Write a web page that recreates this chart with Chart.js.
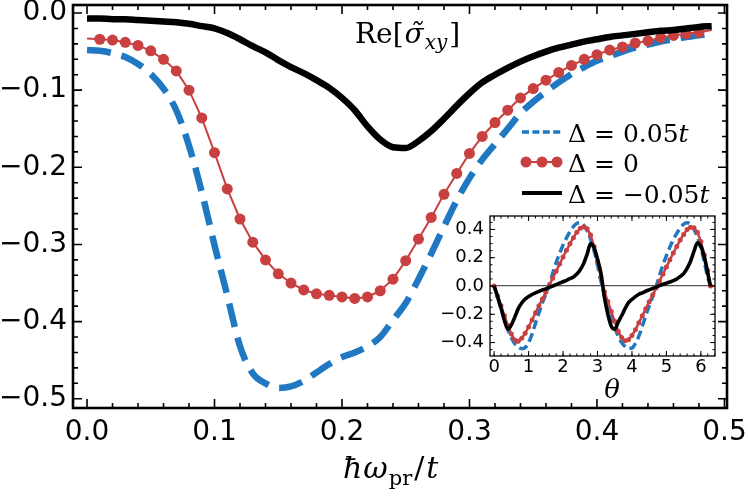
<!DOCTYPE html>
<html>
<head>
<meta charset="utf-8">
<script src="https://cdn.jsdelivr.net/npm/chart.js@4.4.0/dist/chart.umd.min.js"></script>
<style>
  html, body { margin: 0; padding: 0; background: #fff; }
  #wrap { position: relative; width: 748px; height: 496px; overflow: hidden; }
  #main { position: absolute; left: 0; top: 0; }
  #inset { position: absolute; left: 430px; top: 200px; }
</style>
</head>
<body>
<div id="wrap">
  <canvas id="main" width="748" height="496"></canvas>
  <canvas id="inset" width="300" height="215"></canvas>
</div>
<script>
// main panel, x = hbar*omega_pr / t
const omega = [0.00, 0.01, 0.02, 0.03, 0.04, 0.05, 0.06, 0.07, 0.08, 0.09,
  0.10, 0.11, 0.12, 0.13, 0.14, 0.15, 0.16, 0.17, 0.18, 0.19,
  0.20, 0.21, 0.22, 0.23, 0.24, 0.25, 0.26, 0.27, 0.28, 0.29,
  0.30, 0.31, 0.32, 0.33, 0.34, 0.35, 0.36, 0.37, 0.38, 0.39,
  0.40, 0.41, 0.42, 0.43, 0.44, 0.45, 0.46, 0.47, 0.48, 0.49];

// Delta = 0.05t (blue dashed)
const sigmaPos = [-0.048, -0.049, -0.052, -0.057, -0.066, -0.079, -0.098, -0.126, -0.172, -0.232,
  -0.301, -0.366, -0.432, -0.467, -0.480, -0.486, -0.484, -0.477, -0.466, -0.455,
  -0.446, -0.440, -0.432, -0.420, -0.398, -0.376, -0.345, -0.312, -0.277, -0.243,
  -0.214, -0.190, -0.170, -0.150, -0.130, -0.115, -0.102, -0.090, -0.079, -0.070,
  -0.062, -0.056, -0.050, -0.045, -0.041, -0.037, -0.034, -0.031, -0.029, -0.026];

// Delta = 0 (red with dots)
const sigmaZero = [-0.033, -0.034, -0.035, -0.038, -0.042, -0.049, -0.060, -0.075, -0.100, -0.136,
  -0.181, -0.228, -0.267, -0.297, -0.320, -0.338, -0.350, -0.359, -0.364, -0.366,
  -0.368, -0.370, -0.368, -0.360, -0.345, -0.321, -0.293, -0.265, -0.235, -0.208,
  -0.182, -0.160, -0.142, -0.126, -0.110, -0.098, -0.087, -0.077, -0.068, -0.060,
  -0.054, -0.048, -0.044, -0.039, -0.036, -0.032, -0.029, -0.027, -0.025, -0.022];

// Delta = -0.05t (black)
const sigmaNeg = [-0.007, -0.007, -0.008, -0.008, -0.009, -0.010, -0.011, -0.012, -0.014, -0.017,
  -0.020, -0.026, -0.034, -0.043, -0.051, -0.061, -0.070, -0.078, -0.087, -0.097,
  -0.110, -0.126, -0.147, -0.164, -0.174, -0.175, -0.166, -0.153, -0.137, -0.120,
  -0.104, -0.090, -0.080, -0.071, -0.063, -0.056, -0.050, -0.045, -0.041, -0.037,
  -0.034, -0.031, -0.029, -0.027, -0.025, -0.023, -0.022, -0.020, -0.018, -0.017];

const xTicks = [0, 0.1, 0.2, 0.3, 0.4, 0.5];
const yTicks = [0, -0.1, -0.2, -0.3, -0.4, -0.5];
const legendLabels = ['Δ = 0.05t', 'Δ = 0', 'Δ = −0.05t'];

// inset, angle theta
const theta = [0.0, 0.1, 0.2, 0.3, 0.4, 0.5, 0.6, 0.7, 0.8, 0.9,
  1.0, 1.1, 1.2, 1.3, 1.4, 1.5, 1.6, 1.7, 1.8, 1.9,
  2.0, 2.1, 2.2, 2.3, 2.4, 2.5, 2.6, 2.7, 2.8, 2.9,
  3.0, 3.1, 3.2, 3.3, 3.4, 3.5, 3.6, 3.7, 3.8, 3.9,
  4.0, 4.1, 4.2, 4.3, 4.4, 4.5, 4.6, 4.7, 4.8, 4.9,
  5.0, 5.1, 5.2, 5.3, 5.4, 5.5, 5.6, 5.7, 5.8, 5.9,
  6.0, 6.1, 6.2, 6.28];

const insetPos = [0.000, -0.080, -0.160, -0.235, -0.308, -0.365, -0.408, -0.432, -0.443, -0.436,
  -0.400, -0.340, -0.265, -0.190, -0.120, -0.058, 0.010, 0.090, 0.165, 0.230,
  0.290, 0.340, 0.385, 0.420, 0.442, 0.447, 0.430, 0.390, 0.330, 0.250,
  0.150, 0.035, -0.060, -0.140, -0.218, -0.292, -0.355, -0.400, -0.428, -0.441,
  -0.440, -0.405, -0.355, -0.285, -0.210, -0.140, -0.075, -0.005, 0.075, 0.150,
  0.215, 0.275, 0.328, 0.372, 0.410, 0.437, 0.447, 0.435, 0.400, 0.345,
  0.270, 0.170, 0.060, 0.000];

const insetZero = [0.000, -0.070, -0.140, -0.210, -0.280, -0.340, -0.382, -0.390, -0.370, -0.335,
  -0.290, -0.240, -0.190, -0.140, -0.092, -0.045, 0.005, 0.055, 0.105, 0.155,
  0.205, 0.252, 0.298, 0.342, 0.380, 0.408, 0.418, 0.405, 0.360, 0.280,
  0.175, 0.060, -0.040, -0.110, -0.180, -0.250, -0.320, -0.365, -0.388, -0.380,
  -0.350, -0.310, -0.260, -0.210, -0.160, -0.112, -0.064, -0.015, 0.035, 0.085,
  0.135, 0.185, 0.233, 0.280, 0.325, 0.365, 0.400, 0.415, 0.412, 0.380,
  0.315, 0.220, 0.110, 0.000];

const insetNeg = [0.000, -0.075, -0.155, -0.245, -0.306, -0.275, -0.220, -0.160, -0.120, -0.092,
  -0.075, -0.060, -0.048, -0.038, -0.028, -0.020, -0.010, 0.000, 0.010, 0.020,
  0.030, 0.040, 0.052, 0.064, 0.085, 0.115, 0.160, 0.225, 0.300, 0.270,
  0.190, 0.090, -0.080, -0.200, -0.285, -0.306, -0.255, -0.210, -0.160, -0.118,
  -0.095, -0.075, -0.058, -0.048, -0.037, -0.027, -0.017, -0.008, 0.003, 0.012,
  0.020, 0.028, 0.038, 0.050, 0.068, 0.088, 0.125, 0.175, 0.245, 0.305,
  0.280, 0.205, 0.090, 0.000];

const thetaTicks = [0, 1, 2, 3, 4, 5, 6];
const insetYTicks = [-0.4, -0.2, 0, 0.2, 0.4];

const BLUE = '#1f78c1';
const RED = '#c8403f';
const SERIF = '"DejaVu Serif"';

function pts(xs, ys) {
  return xs.map((x, i) => ({ x: x, y: ys[i] }));
}

function fmt(v, d) {
  return (v < -1e-9 ? '\u2212' : '') + Math.abs(v).toFixed(d);
}

// draws text pieces one after the other (for the math labels)
function drawRuns(ctx, x, y, runs) {
  runs.forEach(r => {
    ctx.font = r.font;
    ctx.fillText(r.t, x, y + (r.dy || 0));
    x += ctx.measureText(r.t).width + (r.gap || 0);
  });
  return x;
}

function rangeVals(from, to, step) {
  const out = [];
  for (let v = from; v <= to + 1e-9; v += step) out.push(+v.toFixed(4));
  return out;
}

// inward ticks on all four sides plus the box, matplotlib style
function frameTicks(o) {
  return {
    id: 'frameTicks',
    afterDatasetsDraw(chart) {
      const { ctx, chartArea: a, scales: { x, y } } = chart;
      ctx.save();
      ctx.strokeStyle = '#000';
      ctx.lineWidth = o.tickWidth;
      ctx.beginPath();
      const xs = (vals, len) => vals.forEach(v => {
        const p = x.getPixelForValue(v);
        if (p < a.left || p > a.right) return;
        ctx.moveTo(p, a.bottom); ctx.lineTo(p, a.bottom - len);
        ctx.moveTo(p, a.top); ctx.lineTo(p, a.top + len);
      });
      const ys = (vals, len) => vals.forEach(v => {
        const p = y.getPixelForValue(v);
        if (p < a.top || p > a.bottom) return;
        ctx.moveTo(a.left, p); ctx.lineTo(a.left + len, p);
        ctx.moveTo(a.right, p); ctx.lineTo(a.right - len, p);
      });
      xs(o.xMinor, o.minorLen);
      ys(o.yMinor, o.minorLen);
      xs(o.xMajor, o.majorLen);
      ys(o.yMajor, o.majorLen);
      ctx.stroke();
      ctx.lineWidth = o.frameWidth;
      ctx.strokeRect(a.left, a.top, a.right - a.left, a.bottom - a.top);
      ctx.restore();
    }
  };
}

const mainText = {
  id: 'mainText',
  afterDraw(chart) {
    const ctx = chart.ctx;
    ctx.save();
    ctx.fillStyle = '#000';
    ctx.textBaseline = 'alphabetic';

    // panel label
    drawRuns(ctx, 355, 43, [
      { t: 'Re[', font: '28px ' + SERIF, gap: 1 },
      { t: 'σ̃', font: 'italic 28px ' + SERIF, gap: 1 },
      { t: 'xy', font: 'italic 20px ' + SERIF, dy: 6, gap: 2 },
      { t: ']', font: '28px ' + SERIF }
    ]);

    // x axis title
    drawRuns(ctx, 343, 478, [
      { t: 'ħ', font: 'italic 30px ' + SERIF, gap: 1 },
      { t: 'ω', font: 'italic 30px ' + SERIF, gap: 1 },
      { t: 'pr', font: '21px ' + SERIF, dy: 7, gap: 2 },
      { t: '/', font: '30px ' + SERIF, gap: 2 },
      { t: 't', font: 'italic 30px ' + SERIF }
    ]);

    // legend
    const rows = [132, 162, 193];
    const x0 = 522, x1 = 562;
    ctx.lineCap = 'butt';
    ctx.strokeStyle = BLUE;
    ctx.lineWidth = 3.4;
    ctx.setLineDash([7, 3.4]);
    ctx.beginPath(); ctx.moveTo(x0, rows[0]); ctx.lineTo(x1, rows[0]); ctx.stroke();
    ctx.setLineDash([]);
    ctx.strokeStyle = RED;
    ctx.lineWidth = 2;
    ctx.beginPath(); ctx.moveTo(x0, rows[1]); ctx.lineTo(x1, rows[1]); ctx.stroke();
    ctx.fillStyle = RED;
    [526, 542, 557].forEach(cx => {
      ctx.beginPath(); ctx.arc(cx, rows[1], 5.5, 0, Math.PI * 2); ctx.fill();
    });
    ctx.strokeStyle = '#000';
    ctx.lineWidth = 4;
    ctx.beginPath(); ctx.moveTo(x0, rows[2]); ctx.lineTo(x1, rows[2]); ctx.stroke();

    ctx.fillStyle = '#000';
    legendLabels.forEach((lab, i) => {
      const italicT = lab.endsWith('t');
      const body = italicT ? lab.slice(0, -1) : lab;
      const runs = [{ t: body, font: '25px ' + SERIF }];
      if (italicT) runs.push({ t: 't', font: 'italic 25px ' + SERIF });
      drawRuns(ctx, 568, rows[i] + 10, runs);
    });
    ctx.restore();
  }
};

new Chart(document.getElementById('main'), {
  type: 'line',
  data: {
    datasets: [
      { label: legendLabels[2], data: pts(omega, sigmaNeg), borderColor: '#000', borderWidth: 6.5,
        pointRadius: 0, cubicInterpolationMode: 'monotone', borderCapStyle: 'butt' },
      { label: legendLabels[1], data: pts(omega, sigmaZero), borderColor: RED, backgroundColor: RED,
        borderWidth: 2, pointBackgroundColor: RED, pointBorderWidth: 0,
        pointRadius: c => (c.dataIndex === 0 || c.dataIndex === omega.length - 1) ? 0 : 5.5 },
      { label: legendLabels[0], data: pts(omega, sigmaPos), borderColor: BLUE, borderWidth: 6.5,
        borderDash: [24, 11], pointRadius: 0, cubicInterpolationMode: 'monotone', borderCapStyle: 'butt' }
    ]
  },
  options: {
    responsive: false,
    animation: false,
    devicePixelRatio: 1,
    layout: { padding: { top: 5, right: 21, left: 0, bottom: 0 } },
    plugins: { legend: { display: false }, tooltip: { enabled: false } },
    scales: {
      x: {
        type: 'linear', min: -0.011, max: 0.502,
        afterBuildTicks: s => { s.ticks = xTicks.map(v => ({ value: v })); },
        afterFit: s => { s.height = 88; s.paddingLeft = 0; s.paddingRight = 0; },
        grid: { display: false, drawTicks: false },
        border: { display: false },
        ticks: { font: { family: 'DejaVu Sans', size: 28 }, color: '#000', padding: 8,
          maxRotation: 0, autoSkip: false, callback: v => fmt(v, 1) }
      },
      y: {
        type: 'linear', min: -0.512, max: 0.0104,
        afterBuildTicks: s => { s.ticks = yTicks.map(v => ({ value: v })); },
        afterFit: s => { s.width = 73; s.paddingTop = 0; s.paddingBottom = 0; },
        grid: { display: false, drawTicks: false },
        border: { display: false },
        ticks: { font: { family: 'DejaVu Sans', size: 28 }, color: '#000', padding: 6,
          autoSkip: false, callback: v => fmt(v, 1) }
      }
    }
  },
  plugins: [frameTicks({
    xMajor: xTicks, yMajor: yTicks,
    xMinor: rangeVals(0, 0.5, 0.02), yMinor: rangeVals(-0.5, 0, 0.02),
    majorLen: 9, minorLen: 5, tickWidth: 1.6, frameWidth: 2.6
  }), mainText]
});

const insetBack = {
  id: 'insetBack',
  beforeDraw(chart) {
    const { ctx, chartArea: a } = chart;
    ctx.save();
    ctx.fillStyle = '#fff';
    ctx.fillRect(a.left, a.top, a.right - a.left, a.bottom - a.top);
    ctx.restore();
  },
  afterDraw(chart) {
    const ctx = chart.ctx;
    ctx.save();
    ctx.fillStyle = '#000';
    ctx.font = 'italic 26px ' + SERIF;
    ctx.textAlign = 'center';
    ctx.fillText('θ', 182, 198);
    ctx.restore();
  }
};

new Chart(document.getElementById('inset'), {
  type: 'line',
  data: {
    datasets: [
      { data: pts(theta, insetNeg), borderColor: '#000', borderWidth: 3.6, pointRadius: 0,
        cubicInterpolationMode: 'monotone' },
      { data: pts(theta, insetZero), borderColor: RED, borderWidth: 2.5, pointRadius: 2.5,
        pointBackgroundColor: RED, pointBorderWidth: 0 },
      { data: pts(theta, insetPos), borderColor: BLUE, borderWidth: 3.5, borderDash: [9, 4.5],
        pointRadius: 0, cubicInterpolationMode: 'monotone' }
    ]
  },
  options: {
    responsive: false,
    animation: false,
    devicePixelRatio: 1,
    layout: { padding: { top: 16, right: 15, left: 0, bottom: 0 } },
    plugins: { legend: { display: false }, tooltip: { enabled: false } },
    scales: {
      x: {
        type: 'linear', min: -0.12, max: 6.41,
        afterBuildTicks: s => { s.ticks = thetaTicks.map(v => ({ value: v })); },
        afterFit: s => { s.height = 59; s.paddingLeft = 0; s.paddingRight = 0; },
        grid: { display: false, drawTicks: false },
        border: { display: false },
        ticks: { font: { family: 'DejaVu Sans', size: 18 }, color: '#000', padding: 1,
          maxRotation: 0, autoSkip: false, callback: v => fmt(v, 0) }
      },
      y: {
        type: 'linear', min: -0.495, max: 0.495,
        afterBuildTicks: s => { s.ticks = insetYTicks.map(v => ({ value: v })); },
        afterFit: s => { s.width = 60; s.paddingTop = 0; s.paddingBottom = 0; },
        grid: { display: true, drawTicks: false, lineWidth: 1.3,
          color: c => (c.tick && Math.abs(c.tick.value) < 1e-9) ? '#555' : 'rgba(0,0,0,0)' },
        border: { display: false },
        ticks: { font: { family: 'DejaVu Sans', size: 18 }, color: '#000', padding: 6,
          autoSkip: false, callback: v => fmt(v, 1) }
      }
    }
  },
  plugins: [insetBack, frameTicks({
    xMajor: thetaTicks, yMajor: insetYTicks,
    xMinor: rangeVals(0, 6.4, 0.2), yMinor: rangeVals(-0.45, 0.45, 0.05),
    majorLen: 5, minorLen: 2.5, tickWidth: 1, frameWidth: 1.3
  })]
});
</script>
</body>
</html>
